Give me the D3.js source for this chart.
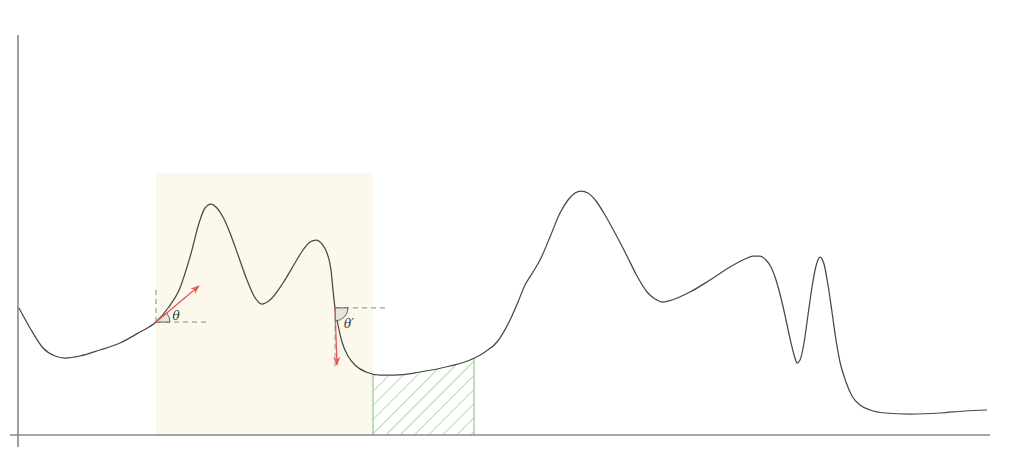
<!DOCTYPE html>
<html><head><meta charset="utf-8">
<script src="https://cdn.jsdelivr.net/npm/d3@7"></script>
<style>html,body{margin:0;padding:0;background:#fff;}svg{display:block;}</style>
</head><body>
<svg id="chart" width="1023" height="463"></svg>
<script>
// Curve samples (x, y in chart units)
const curveX = [0.1,1.2,2.5,3.7,4.7,6.2,8.2,10.2,12.2,13.8,15.0,16.2,17.2,18.2,18.7,19.3,19.9,20.5,21.2,22.0,22.9,23.6,24.4,25.2,26.5,27.7,28.5,29.2,29.8,30.4,30.9,31.3,31.5,31.7,32.0,32.4,33.0,33.8,34.8,36.2,37.7,40.2,43.2,45.2,46.7,47.9,49.2,50.0,50.7,51.5,52.2,53.2,54.2,55.0,55.7,56.3,57.0,57.8,58.7,59.7,60.9,61.9,62.9,63.7,64.5,65.4,67.2,69.2,71.2,72.7,73.5,74.2,74.8,75.3,75.8,76.3,76.8,77.3,77.7,77.9,78.2,78.6,79.0,79.4,79.8,80.2,80.6,81.0,81.4,81.8,82.2,82.8,83.4,84.2,85.2,86.7,89.2,92.2,94.7,96.9];
const curveY = [12.7,10.7,8.7,7.9,7.7,7.9,8.5,9.2,10.3,11.3,12.7,14.7,17.8,21.5,22.7,23.1,22.7,21.8,20.2,18.0,15.5,13.9,13.1,13.5,15.2,17.2,18.5,19.3,19.5,19.1,18.2,16.5,14.5,12.7,11.0,9.3,7.9,6.9,6.3,6.0,6.0,6.3,6.9,7.5,8.3,9.3,11.5,13.3,15.0,16.3,17.5,19.8,22.2,23.5,24.2,24.4,24.2,23.4,22.0,20.2,17.9,15.9,14.3,13.6,13.3,13.5,14.3,15.5,16.8,17.6,17.9,17.9,17.5,16.8,15.5,13.7,11.5,9.2,7.7,7.2,7.5,9.2,12.0,14.8,16.9,17.8,17.1,15.0,12.3,9.5,7.3,5.3,3.9,3.0,2.5,2.2,2.1,2.2,2.4,2.5];
// Highlighted band and hatched interval
const bandX = [13.8, 35.5];
const bandTop = 26.2;
const hatchX = [35.5, 45.6];
// Angle markers
const markerX = [13.8, 31.7];
const markerAngle = [40, -88];      // degrees from horizontal
const markerLabel = ["θ", "θ′"];

(function () {
const svg = d3.select("#chart");
const x = d3.scaleLinear().domain([0, 97]).range([18, 988]);
const y = d3.scaleLinear().domain([0, 40]).range([435, 35]);
const pts = curveX.map((d, i) => [d, curveY[i]]);
const line = d3.line().x(d => x(d[0])).y(d => y(d[1])).curve(d3.curveMonotoneX);

const defs = svg.append("defs");
const pat = defs.append("pattern").attr("id", "hatch").attr("patternUnits", "userSpaceOnUse")
  .attr("width", 10).attr("height", 10).attr("patternTransform", "rotate(45)");
pat.append("line").attr("x1", 0).attr("y1", 0).attr("x2", 0).attr("y2", 10)
  .attr("stroke", "#a3d199").attr("stroke-width", 1.6);
const mk = defs.append("marker").attr("id", "arr").attr("viewBox", "0 0 10 10")
  .attr("refX", 9).attr("refY", 5).attr("markerWidth", 9).attr("markerHeight", 9)
  .attr("markerUnits", "userSpaceOnUse").attr("orient", "auto");
mk.append("path").attr("d", "M0,1 L10,5 L0,9 L3,5 Z").attr("fill", "#e05a5a");

// band
svg.append("rect").attr("x", x(bandX[0])).attr("y", y(bandTop))
  .attr("width", x(bandX[1]) - x(bandX[0])).attr("height", y(0) - y(bandTop))
  .attr("fill", "#fcf8ec");

// hidden path for sampling
const curvePath = svg.append("path").attr("d", line(pts)).attr("fill", "none").attr("stroke", "none");
const node = curvePath.node();
const L = node.getTotalLength();
const samples = d3.range(0, L, 0.5).map(l => node.getPointAtLength(l));
function yAtPx(px) {
  let best = samples[0];
  for (const p of samples) if (Math.abs(p.x - px) < Math.abs(best.x - px)) best = p;
  return best.y;
}

// hatched area
const hx0 = x(hatchX[0]), hx1 = x(hatchX[1]);
const topPts = samples.filter(p => p.x >= hx0 && p.x <= hx1).map(p => [p.x, p.y]);
const poly = [[hx0, y(0)], [hx0, yAtPx(hx0)], ...topPts, [hx1, yAtPx(hx1)], [hx1, y(0)]];
svg.append("path").attr("d", "M" + poly.map(p => p.join(",")).join("L") + "Z")
  .attr("fill", "url(#hatch)").attr("stroke", "none");
[hx0, hx1].forEach(px => svg.append("line").attr("x1", px).attr("x2", px)
  .attr("y1", y(0)).attr("y2", yAtPx(px)).attr("stroke", "#a3d199").attr("stroke-width", 1.4));

// axes
svg.append("line").attr("x1", x(-0.8)).attr("x2", x(97.2)).attr("y1", y(0)).attr("y2", y(0))
  .attr("stroke", "#888").attr("stroke-width", 1.6);
svg.append("line").attr("x1", x(0)).attr("x2", x(0)).attr("y1", y(-1.2)).attr("y2", y(40))
  .attr("stroke", "#888").attr("stroke-width", 1.6);

// curve
svg.append("path").attr("d", line(pts)).attr("fill", "none").attr("stroke", "#474747").attr("stroke-width", 1.25);

// angle markers
markerX.forEach((mx, i) => {
  const px = x(mx), py = yAtPx(px);
  const a = markerAngle[i] * Math.PI / 180;
  const g = svg.append("g");
  const dash = "5,4";
  g.append("line").attr("x1", px).attr("x2", px + 50).attr("y1", py).attr("y2", py)
    .attr("stroke", "#888").attr("stroke-dasharray", dash);
  if (a > 0) {
    g.append("line").attr("x1", px).attr("x2", px).attr("y1", py).attr("y2", py - 34)
      .attr("stroke", "#888").attr("stroke-dasharray", dash);
  } else {
    g.append("line").attr("x1", px).attr("x2", px).attr("y1", py).attr("y2", py + 60)
      .attr("stroke", "#999").attr("stroke-dasharray", dash);
  }
  const s = Math.PI / 2 - a;
  const arc = d3.arc().innerRadius(0).outerRadius(a > 0 ? 14 : 13)
    .startAngle(Math.min(s, Math.PI / 2)).endAngle(Math.max(s, Math.PI / 2));
  g.append("path").attr("d", arc()).attr("transform", `translate(${px},${py})`)
    .attr("fill", "#e6e4dc").attr("stroke", "#555").attr("stroke-width", 0.9);
  const len = a > 0 ? 56 : 57;
  g.append("line").attr("x1", px).attr("y1", py)
    .attr("x2", px + len * Math.cos(a)).attr("y2", py - len * Math.sin(a))
    .attr("stroke", "#e05a5a").attr("stroke-width", 1.3).attr("marker-end", "url(#arr)");
  g.append("text").text(markerLabel[i])
    .attr("x", a > 0 ? px + 20 : px + 14).attr("y", a > 0 ? py - 2 : py + 20)
    .attr("text-anchor", "middle")
    .attr("font-family", "DejaVu Serif, serif").attr("font-style", "italic")
    .attr("font-size", 12).attr("fill", "#333");
});
})();
</script>
</body></html>
